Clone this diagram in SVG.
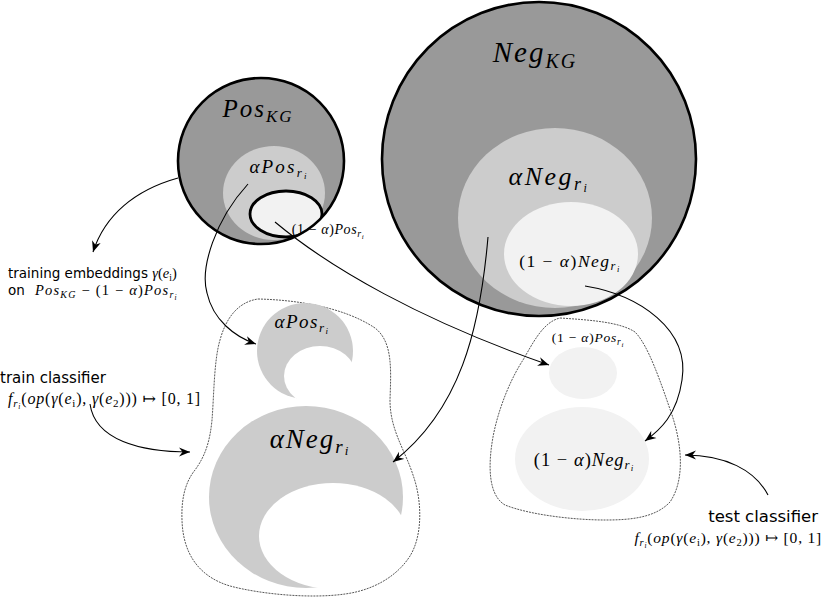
<svg xmlns="http://www.w3.org/2000/svg" width="823" height="602" viewBox="0 0 823 602">
<style>
.m{font-family:"Liberation Serif","DejaVu Serif",serif;font-style:italic;fill:#000}
.u{font-style:normal}
.s{font-family:"DejaVu Sans",sans-serif;fill:#000}
.dk{fill:#999999}
.lt{fill:#cccccc}
.wh{fill:#f2f2f2}
.edge{fill:none;stroke:#000;stroke-width:2.6}
.bag{fill:none;stroke:#444;stroke-width:0.9;stroke-dasharray:2 1}
.con{fill:none;stroke:#000;stroke-width:1.1;marker-end:url(#ah)}
</style>
<defs>
<marker id="ah" viewBox="-11 -5 12 10" markerWidth="12" markerHeight="10" refX="0" refY="0" orient="auto" markerUnits="userSpaceOnUse">
<path d="M0,0 L-11,-4.5 L-7.5,0 L-11,4.5 Z" fill="#000"/>
</marker>
<clipPath id="cpPos"><circle cx="261" cy="161" r="83"/></clipPath>
<clipPath id="cpNeg"><circle cx="539" cy="159" r="157"/></clipPath>
</defs>
<rect width="823" height="602" fill="#fff"/>

<g id="pos-kg">
<circle cx="261" cy="161" r="83" class="dk"/>
<g clip-path="url(#cpPos)">
<ellipse cx="274" cy="193" rx="51" ry="47" class="lt"/>
<ellipse cx="286" cy="214" rx="36" ry="23" class="wh" stroke="#000" stroke-width="2.8"/>
</g>
<circle cx="261" cy="161" r="83" class="edge"/>
<text class="m" x="258" y="117" text-anchor="middle" font-size="25" letter-spacing="2">Pos<tspan font-size="17" dy="5">KG</tspan></text>
<text class="m" x="279" y="173" text-anchor="middle" font-size="19" letter-spacing="2.2">αPos<tspan font-size="13" dy="4">r</tspan><tspan font-size="9" dy="2">i</tspan></text>
<text class="m" x="328" y="234" text-anchor="middle" font-size="14" letter-spacing="0.6"><tspan class="u">(1 − </tspan>α<tspan class="u">)</tspan>Pos<tspan font-size="10" dy="3">r</tspan><tspan font-size="7" dy="1.5">i</tspan></text>
</g>

<g id="neg-kg">
<circle cx="539" cy="159" r="157" class="dk"/>
<g clip-path="url(#cpNeg)">
<ellipse cx="555" cy="218" rx="97" ry="90" class="lt"/>
<ellipse cx="571" cy="254" rx="67" ry="52" class="wh"/>
</g>
<circle cx="539" cy="159" r="157" class="edge"/>
<text class="m" x="535" y="62" text-anchor="middle" font-size="29" letter-spacing="2">Neg<tspan font-size="20" dy="6">KG</tspan></text>
<text class="m" x="549" y="185" text-anchor="middle" font-size="26" letter-spacing="2.5">αNeg<tspan font-size="18" dy="5">r</tspan><tspan font-size="12" dy="2">i</tspan></text>
<text class="m" x="570" y="267" text-anchor="middle" font-size="17.5" letter-spacing="1.5"><tspan class="u">(1 − </tspan>α<tspan class="u">)</tspan>Neg<tspan font-size="12.5" dy="3">r</tspan><tspan font-size="8.5" dy="2">i</tspan></text>
</g>

<g id="train-set">
<path class="bag" d="M 258,299 C 300,300 345,308 375,328 C 393,342 391,370 390,400 C 390,430 405,450 413,475 C 422,500 423,535 410,556 C 398,575 375,590 345,594 C 310,599 260,594 230,586 C 200,577 183,555 182,520 C 181,495 187,480 195,470 C 206,455 210,440 212,420 C 214,395 214,360 220,340 C 226,318 238,302 258,299 Z"/>
<circle cx="305" cy="351" r="48" class="lt"/>
<ellipse cx="320" cy="376" rx="36" ry="30" fill="#fff"/>
<ellipse cx="306" cy="497" rx="97" ry="91" class="lt"/>
<ellipse cx="333" cy="536" rx="74" ry="53" fill="#fff"/>
<text class="m" x="302" y="328" text-anchor="middle" font-size="19" letter-spacing="1.5">αPos<tspan font-size="13" dy="4">r</tspan><tspan font-size="9" dy="2">i</tspan></text>
<text class="m" x="310" y="448" text-anchor="middle" font-size="27" letter-spacing="2">αNeg<tspan font-size="19" dy="5">r</tspan><tspan font-size="13" dy="2">i</tspan></text>
</g>

<g id="test-set">
<path class="bag" d="M 560,318 C 590,320 620,322 635,332 C 648,345 660,380 672,415 C 682,445 685,480 670,502 C 655,518 630,520 605,520 C 575,520 530,515 505,505 C 488,495 488,465 493,437 C 498,410 510,380 523,360 C 533,343 543,322 560,318 Z"/>
<ellipse cx="583" cy="373" rx="34" ry="26" class="wh"/>
<ellipse cx="582" cy="459" rx="67" ry="52" class="wh"/>
<text class="m" x="588" y="342" text-anchor="middle" font-size="13.5" letter-spacing="0.8"><tspan class="u">(1 − </tspan>α<tspan class="u">)</tspan>Pos<tspan font-size="9.5" dy="3">r</tspan><tspan font-size="7" dy="1.5">i</tspan></text>
<text class="m" x="584" y="466" text-anchor="middle" font-size="18.5" letter-spacing="1"><tspan class="u">(1 − </tspan>α<tspan class="u">)</tspan>Neg<tspan font-size="13" dy="3">r</tspan><tspan font-size="9" dy="2">i</tspan></text>
</g>

<g id="label-training">
<text class="s" x="8" y="278" font-size="13.5">training embeddings <tspan class="m" font-size="14.5">γ<tspan class="u">(</tspan>e<tspan font-size="9.5" class="u" dy="2.5">i</tspan><tspan class="u" dy="-2.5">)</tspan></tspan></text>
<text class="s" x="8" y="295" font-size="13.5">on <tspan class="m" font-size="14.5" x="35" letter-spacing="1.2">Pos<tspan font-size="10" dy="3">KG</tspan><tspan class="u" dy="-3"> − (1 − </tspan>α<tspan class="u">)</tspan>Pos<tspan font-size="10" dy="3">r</tspan><tspan font-size="7.5" dy="1.5">i</tspan></tspan></text>
</g>

<g id="label-train">
<text class="s" x="0" y="383" font-size="15">train classifier</text>
<text class="m" x="8" y="404" font-size="16" letter-spacing="0.8">f<tspan font-size="11" dy="3">r</tspan><tspan font-size="7.5" dy="1.5">i</tspan><tspan class="u" dy="-4.5">(</tspan>op<tspan class="u">(</tspan>γ<tspan class="u">(</tspan>e<tspan class="u" font-size="11" dy="3">i</tspan><tspan class="u" dy="-3">), </tspan>γ<tspan class="u">(</tspan>e<tspan class="u" font-size="11" dy="3">2</tspan><tspan class="u" dy="-3">))) ↦ [0, 1]</tspan></text>
</g>

<g id="label-test">
<text class="s" x="818" y="522" font-size="16.5" text-anchor="end">test classifier</text>
<text class="m" x="822" y="543" font-size="15.5" text-anchor="end" letter-spacing="0.8">f<tspan font-size="10.5" dy="3">r</tspan><tspan font-size="7.5" dy="1.5">i</tspan><tspan class="u" dy="-4.5">(</tspan>op<tspan class="u">(</tspan>γ<tspan class="u">(</tspan>e<tspan class="u" font-size="10.5" dy="3">i</tspan><tspan class="u" dy="-3">), </tspan>γ<tspan class="u">(</tspan>e<tspan class="u" font-size="10.5" dy="3">2</tspan><tspan class="u" dy="-3">))) ↦ [0, 1]</tspan></text>
</g>

<g id="connectors">
<path class="con" d="M 178,178 C 135,190 105,215 93,252"/>
<path class="con" d="M 248,184 C 215,220 200,268 207,293 C 213,320 235,337 256,344"/>
<path class="con" d="M 275,222 C 330,268 420,320 549,365"/>
<path class="con" d="M 488,237 C 480,330 460,410 393,462"/>
<path class="con" d="M 585,286 C 640,295 690,330 682,380 C 677,415 660,430 645,441"/>
<path class="con" d="M 90,404 C 95,440 140,452 190,452"/>
<path class="con" d="M 768,495 C 755,470 725,455 685,455"/>
</g>
</svg>
